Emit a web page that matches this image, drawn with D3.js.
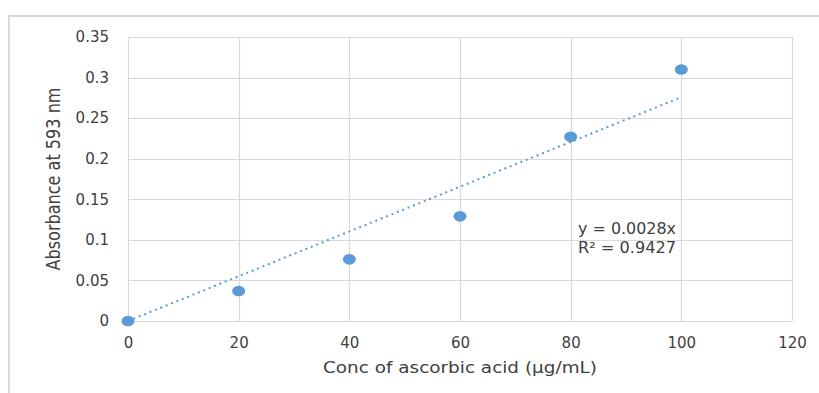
<!DOCTYPE html>
<html><head><meta charset="utf-8">
<script src="https://cdn.jsdelivr.net/npm/d3@7"></script>
<style>
html,body{margin:0;padding:0;background:#fff;}
svg{display:block;}
text{font-family:"DejaVu Sans",sans-serif;fill:#404040;}
</style></head>
<body>
<script>
const concentrations = [0, 20, 40, 60, 80, 100];
const absorbance = [0, 0.037, 0.076, 0.129, 0.227, 0.31];
const xTicks = [0, 20, 40, 60, 80, 100, 120];
const yTicks = [0, 0.05, 0.1, 0.15, 0.2, 0.25, 0.3, 0.35];
const xTitle = "Conc of ascorbic acid (µg/mL)";
const yTitle = "Absorbance at 593 nm";
const eqLines = ["y = 0.0028x", "R² = 0.9427"];

const W = 819, H = 393;
const svg = d3.select("body").append("svg").attr("width", W).attr("height", H);

// outer chart border
svg.append("rect").attr("x", 9).attr("y", 16).attr("width", 840).attr("height", 420)
  .attr("fill", "none").attr("stroke", "#d9d9d9").attr("stroke-width", 2);

const x = d3.scaleLinear().domain([0, 120]).range([128, 792]);
const y = d3.scaleLinear().domain([0, 0.35]).range([321, 37]);

// gridlines
svg.append("g").selectAll("line").data(yTicks).join("line")
  .attr("x1", x(0)).attr("x2", x(120))
  .attr("y1", d => Math.round(y(d)) + 0.5).attr("y2", d => Math.round(y(d)) + 0.5)
  .attr("stroke", "#d9d9d9").attr("stroke-width", 1.2);
svg.append("g").selectAll("line").data(xTicks).join("line")
  .attr("y1", y(0)).attr("y2", y(0.35))
  .attr("x1", d => Math.round(x(d)) + 0.5).attr("x2", d => Math.round(x(d)) + 0.5)
  .attr("stroke", "#d9d9d9").attr("stroke-width", 1.2);

// axes (labels only)
const xAxis = svg.append("g").attr("transform", `translate(0,${y(0)})`)
  .call(d3.axisBottom(x).tickValues(xTicks).tickSize(0).tickPadding(16).tickFormat(d3.format("d")));
xAxis.select(".domain").remove();
xAxis.selectAll("text").attr("font-size", 15).attr("fill", "#404040").attr("font-family", "DejaVu Sans");

const yAxis = svg.append("g").attr("transform", `translate(${x(0)},0)`)
  .call(d3.axisLeft(y).tickValues(yTicks).tickSize(0).tickPadding(19).tickFormat(d => d3.format("")(+d.toFixed(2))));
yAxis.select(".domain").remove();
yAxis.selectAll("text").attr("font-size", 15).attr("fill", "#404040").attr("font-family", "DejaVu Sans");

// regression through origin
const sxy = d3.sum(concentrations, (c, i) => c * absorbance[i]);
const sxx = d3.sum(concentrations, c => c * c);
const slope = sxy / sxx;
const xMax = d3.max(concentrations);
svg.append("line")
  .attr("x1", x(0)).attr("y1", y(0)).attr("x2", x(xMax)).attr("y2", y(slope * xMax))
  .attr("stroke", "#5b9bd5").attr("stroke-width", 2).attr("stroke-dasharray", "2 3.8");

// points
svg.append("g").selectAll("ellipse").data(concentrations).join("ellipse")
  .attr("cx", d => x(d)).attr("cy", (d, i) => y(absorbance[i]))
  .attr("rx", 6.5).attr("ry", 5.3).attr("fill", "#5b9bd5");

// equation
svg.append("g").selectAll("text").data(eqLines).join("text")
  .attr("x", 578).attr("y", (d, i) => 234 + i * 19)
  .attr("font-size", 15).attr("textLength", 98).attr("lengthAdjust", "spacingAndGlyphs")
  .text(d => d);

// titles
svg.append("text").attr("x", 460).attr("y", 373).attr("text-anchor", "middle")
  .attr("font-size", 16).attr("textLength", 274).attr("lengthAdjust", "spacingAndGlyphs")
  .text(xTitle);
svg.append("text").attr("transform", "translate(60,179) rotate(-90)").attr("text-anchor", "middle")
  .attr("font-size", 20).attr("textLength", 183).attr("lengthAdjust", "spacingAndGlyphs")
  .text(yTitle);
</script>
</body></html>
